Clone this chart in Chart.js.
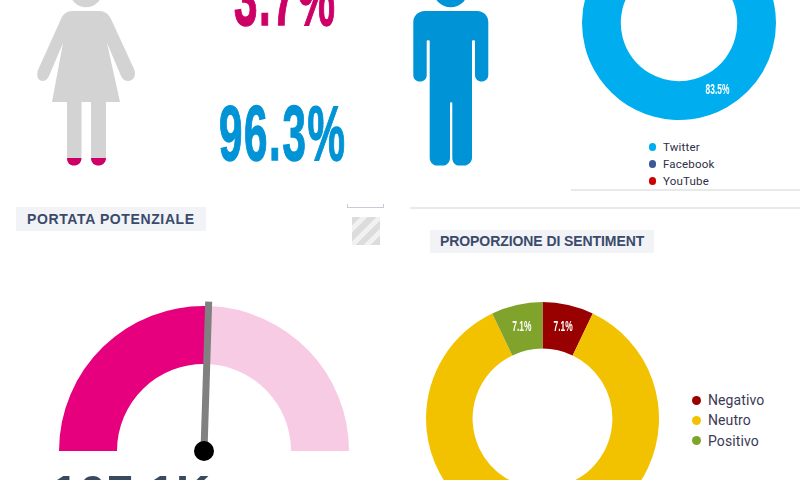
<!DOCTYPE html>
<html><head><meta charset="utf-8">
<script src="https://cdn.jsdelivr.net/npm/chart.js@4"></script>
<style>
html,body{margin:0;padding:0;background:#fff;width:800px;height:480px;overflow:hidden;position:relative;font-family:Roboto,sans-serif}
canvas{position:absolute;display:block}
.a{position:absolute;white-space:nowrap}
.big{font-family:"Liberation Sans",sans-serif;font-weight:700;font-size:78px;line-height:80px;letter-spacing:3px;transform-origin:0 0;transform:scaleX(.54);-webkit-text-stroke:1.4px currentColor}
.title{background:#f1f3f6;color:#3b4a6b;font-family:"Liberation Sans",sans-serif;font-weight:700;font-size:14px;height:24px;line-height:24px;box-sizing:border-box}
.line{position:absolute;background:#e8e9ea;height:2px}
.dot{position:absolute;border-radius:50%}
.leg{position:absolute;white-space:nowrap}
</style></head><body>
<svg class="a" style="left:0;top:0" width="500" height="180" viewBox="0 0 500 180">
  <circle cx="86" cy="-9" r="16.3" fill="#d3d3d3"/>
  <path fill="#d3d3d3" d="M72 11H99C104 11 108 13 111 19L134 69C137 76 133 81 128 81C124 81 122 78 121 76L107 43L120 102H106V158H91V102H81.500V158H67V102H52L63 43L49 76C48 78 46 81 43 81C38 81 36 76 38 70L61 19C63 14 67 11 72 11Z"/>
  <path fill="#cc0066" d="M67 158H81.500C81.500 163 78 165.600 74 165.600C70 165.600 67 163 67 158ZM91 158H106C106 163 102 165.600 98.500 165.600C94.500 165.600 91 163 91 158Z"/>
  <circle cx="450.700" cy="-10" r="17.300" fill="#0093d5"/>
  <path fill="#0093d5" d="M425 11H477C484 11 488.300 16 488.300 22V75C488.300 79 485 81.500 481.600 81.500C478 81.500 475 79 475 75V41C475 40 472 40 472 41V158C472 162 468 165.600 464 165.600H459C455 165.600 452.300 162 452.300 158V103C452.300 102 450 102 450 103V158C450 162 447 165.600 443 165.600H437C433 165.600 429.700 162 429.700 158V41C429.700 40 426.700 40 426.700 41V75C426.700 79 424 81.500 420 81.500C416 81.500 413.300 79 413.300 75V22C413.300 16 418 11 425 11Z"/>
</svg>

<div class="a big" id="pctF" style="left:234px;top:-42px;color:#cc0066"></div>
<div class="a big" id="pctM" style="left:219px;top:93px;color:#0093d5"></div>

<canvas id="cSource" width="194" height="194" style="left:582px;top:-74px;width:194px;height:194px"></canvas>
<div id="legSource"></div>
<div class="line" style="left:571px;top:189px;width:229px"></div>
<div class="line" style="left:410px;top:207px;width:390px"></div>

<div class="a title" id="t1" style="left:16px;top:207px;width:190px;padding-left:11px;letter-spacing:.62px"></div>
<div class="a" style="left:347px;top:204px;width:35px;height:3px;border:1px solid #c6cbd6;border-top:0"></div>
<div class="a" style="left:352px;top:217px;width:28px;height:28px;background:repeating-linear-gradient(135deg,#dcdcdc 0 6px,#f1f1f1 6px 11px)"></div>

<canvas id="cGauge" width="290" height="170" style="left:59px;top:296px;width:290px;height:170px"></canvas>
<div class="a" id="gaugeText" style="left:52px;top:465px;font-family:'Liberation Sans',sans-serif;font-weight:700;font-size:47px;line-height:54px;color:#3a4a5e;letter-spacing:1.3px"></div>

<div class="a title" id="t2" style="left:430px;top:230px;width:224px;height:23px;line-height:23px;padding-left:10px;letter-spacing:-.08px"></div>
<canvas id="cSent" width="233" height="233" style="left:426px;top:302px;width:233px;height:233px"></canvas>
<div id="legSent"></div>

<script>
const femalePct = "3.7%";
const malePct = "96.3%";
const titleReach = "PORTATA POTENZIALE";
const titleSentiment = "PROPORZIONE DI SENTIMENT";
const gaugeLabel = "107.1K";
const gaugeValues = [107.1, 102.9];
const gaugeColors = ["#e6007e", "#f8cbe5"];
const sourceLabels = ["Twitter", "Facebook", "YouTube"];
const sourceValues = [83.5, 11, 5.5];
const sourceColors = ["#00aeef", "#3b5998", "#cc0000"];
const sentimentLabels = ["Negativo", "Neutro", "Positivo"];
const sentimentValues = [7.1, 85.8, 7.1];
const sentimentColors = ["#990000", "#f2c200", "#7fa32b"];
const sentimentShown = [true, false, true];
const sourceShown = [true, false, false];

Chart.defaults.animation = false;
Chart.defaults.devicePixelRatio = 1;

const sliceLabels = {
  id: "sliceLabels",
  afterDatasetsDraw(chart, args, opts) {
    const ctx = chart.ctx, arcs = chart.getDatasetMeta(0).data, vals = chart.data.datasets[0].data;
    ctx.save();
    ctx.fillStyle = "#fff";
    ctx.font = "700 14px 'Liberation Sans', sans-serif";
    ctx.textAlign = "center";
    ctx.textBaseline = "middle";
    arcs.forEach((arc, i) => {
      if (!opts.shown[i]) return;
      const p = arc.getCenterPoint();
      ctx.save();
      ctx.translate(p.x, p.y);
      ctx.scale(.6, 1);
      ctx.fillText(vals[i].toFixed(1) + "%", 0, 0);
      ctx.restore();
    });
    ctx.restore();
  }
};

const needle = {
  id: "needle",
  afterDatasetsDraw(chart) {
    const ctx = chart.ctx, arc = chart.getDatasetMeta(0).data[0];
    const ang = arc.endAngle, len = arc.outerRadius + 4.5;
    const x = arc.x, y = arc.y;
    ctx.save();
    ctx.strokeStyle = "#808080";
    ctx.lineWidth = 7;
    ctx.beginPath();
    ctx.moveTo(x, y);
    ctx.lineTo(x + Math.cos(ang) * len, y + Math.sin(ang) * len);
    ctx.stroke();
    ctx.fillStyle = "#000";
    ctx.beginPath();
    ctx.arc(x, y, 10, 0, Math.PI * 2);
    ctx.fill();
    ctx.restore();
  }
};

function donut(id, labels, values, colors, shown) {
  return new Chart(document.getElementById(id), {
    type: "doughnut",
    data: { labels, datasets: [{ data: values, backgroundColor: colors, borderWidth: 0 }] },
    options: {
      responsive: false, cutout: "60%",
      layout: { padding: 0 },
      plugins: { legend: { display: false }, tooltip: { enabled: false }, sliceLabels: { shown } }
    },
    plugins: [sliceLabels]
  });
}
donut("cSource", sourceLabels, sourceValues, sourceColors, sourceShown);
donut("cSent", sentimentLabels, sentimentValues, sentimentColors, sentimentShown);

new Chart(document.getElementById("cGauge"), {
  type: "doughnut",
  data: { labels: ["value", "rest"], datasets: [{ data: gaugeValues, backgroundColor: gaugeColors, borderWidth: 0 }] },
  options: {
    responsive: false, cutout: "60%", rotation: -90, circumference: 180,
    layout: { padding: { top: 10, bottom: 15 } },
    plugins: { legend: { display: false }, tooltip: { enabled: false } }
  },
  plugins: [needle]
});

function legend(hostId, labels, colors, x, ys, r, textX, font, color, spacing) {
  const host = document.getElementById(hostId);
  labels.forEach((t, i) => {
    const d = document.createElement("div");
    d.className = "dot";
    d.style.cssText = `left:${x - r}px;top:${ys[i] - r}px;width:${2*r}px;height:${2*r}px;background:${colors[i]}`;
    host.appendChild(d);
    const l = document.createElement("div");
    l.className = "leg";
    l.textContent = t;
    l.style.cssText = `left:${textX}px;top:${ys[i] - 10}px;height:20px;line-height:20px;font-size:${font}px;color:${color};letter-spacing:${spacing}px`;
    host.appendChild(l);
  });
}
legend("legSource", sourceLabels, sourceColors, 652.3, [147, 164, 181], 3.7, 663, 11.5, "#2f2f45", .2);
legend("legSent", sentimentLabels, sentimentColors, 696.3, [400, 420.3, 440.7], 4.5, 708, 14, "#3a3a55", .1);

document.getElementById("pctF").textContent = femalePct;
document.getElementById("pctM").textContent = malePct;
document.getElementById("t1").textContent = titleReach;
document.getElementById("t2").textContent = titleSentiment;
document.getElementById("gaugeText").textContent = gaugeLabel;
</script>
</body></html>
